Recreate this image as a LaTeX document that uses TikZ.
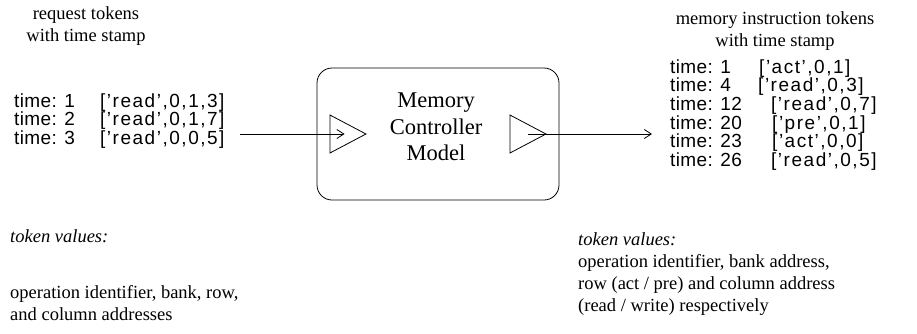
\documentclass[tikz,border=0pt]{standalone}
\usepackage{fontspec}
\setmainfont{Liberation Serif}
\newfontfamily\tokfont[LetterSpace=2]{Liberation Sans}
\newfontfamily\valfont[LetterSpace=8]{Liberation Sans}
\usetikzlibrary{calc}
\usetikzlibrary{arrows.meta,shapes.geometric}

\newcommand{\tm}[2]{\makebox[#1][l]{time: #2}}
\newcommand{\val}[1]{{\valfont #1}}

\begin{document}
\begin{tikzpicture}[x=1pt,y=-1pt,
    lbl/.style={inner sep=0pt,font=\fontsize{18.5}{22}\selectfont,align=center},
    note/.style={inner sep=0pt,font=\fontsize{18.5}{22}\selectfont,align=left,anchor=west},
    toks/.style={inner sep=0pt,font=\tokfont\fontsize{19}{17}\selectfont,align=left,anchor=west},
    port/.style={draw,isosceles triangle,isosceles triangle stretches,minimum height=36pt,minimum width=38pt,inner sep=0pt,anchor=apex,line width=0.8pt},
    flow/.style={line width=0.8pt,-{Straight Barb[length=7pt,width=9pt]}}]
    \useasboundingbox (0,0) rectangle (917,333);
    \node[lbl] (reqtitle) at (86,26) {request tokens\\with time stamp};
    \node[lbl] (instrtitle) at (775,31) {memory instruction tokens\\with time stamp};
    \node[toks] (reqlist) at (14,121) {\tm{86pt}{1}\val{[’read’,0,1,3]}\\\tm{86pt}{2}\val{[’read’,0,1,7]}\\\tm{86pt}{3}\val{[’read’,0,0,5]}};
    \node[toks] (instrlist) at (670,115) {\tm{89pt}{1}\val{[’act’,0,1]}\\\tm{88pt}{4}\val{[’read’,0,3]}\\\tm{101pt}{12}\val{[’read’,0,7]}\\\tm{102pt}{20}\val{[’pre’,0,1]}\\\tm{102pt}{23}\val{[’act’,0,0]}\\\tm{101pt}{26}\val{[’read’,0,5]}};
    \node[draw,rounded corners=15pt,minimum width=242pt,minimum height=132pt,line width=0.8pt] (ctrl) at (438,134) {};
    \node[lbl,font=\fontsize{22.5}{26.5}\selectfont] (ctrlname) at (436,127) {Memory\\Controller\\Model};
    \node[port] (inport) at (367,134) {};
    \node[port] (outport) at (547,134) {};
    \coordinate (reqout) at (240,134);
    \coordinate (instrin) at (652,134);
    \draw[flow] (reqout) -- ($(inport.lower side)!0.4!(inport.apex)$);
    \draw[flow] ($(outport.lower side)!0.5!(outport.apex)$) -- (instrin);
    \node[note] (reqnote) at (10,236) {\itshape token values:};
    \node[note] (reqvals) at (10,303) {operation identifier, bank, row,\\and column addresses};
    \node[note] (instrnote) at (578,274) {\itshape token values:\\operation identifier, bank address,\\row (act / pre) and column address\\(read / write) respectively};
\end{tikzpicture}
\end{document}
